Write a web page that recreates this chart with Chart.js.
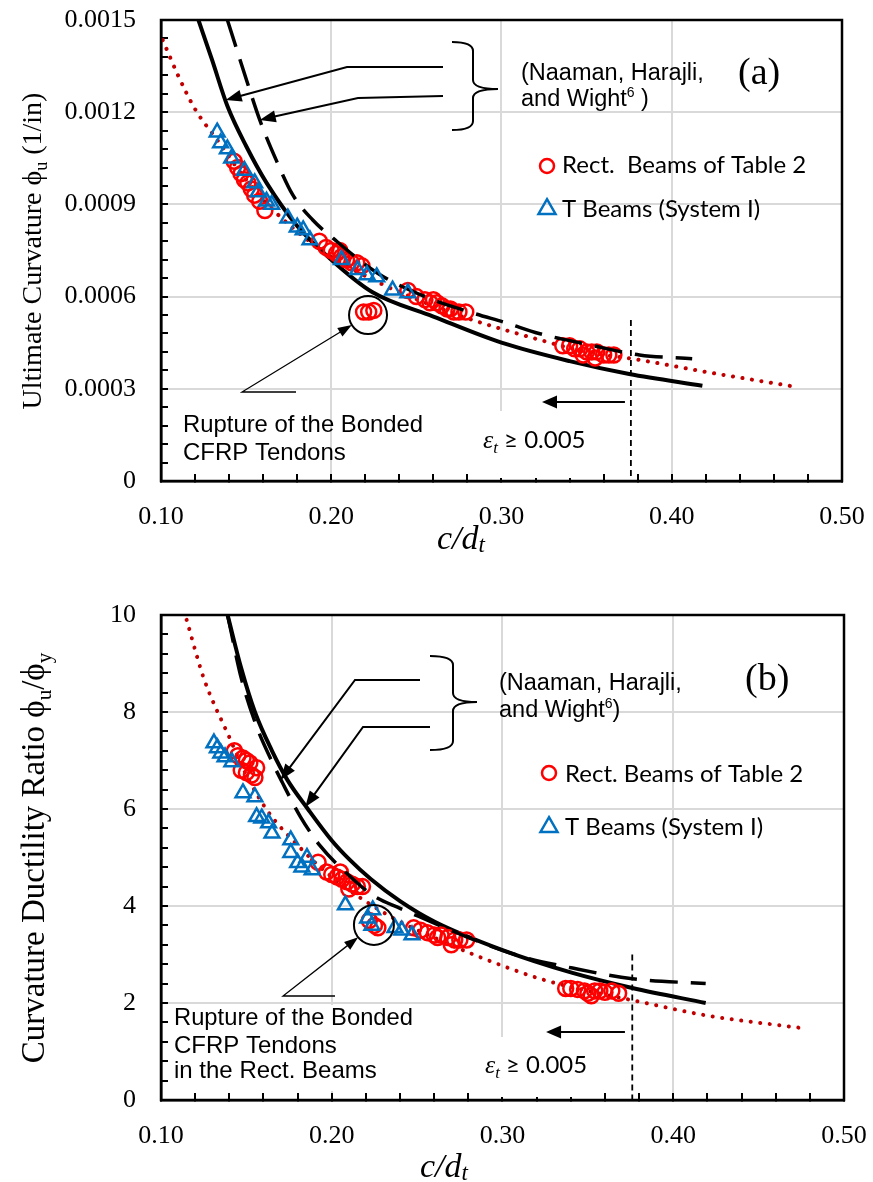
<!DOCTYPE html>
<html>
<head>
<meta charset="utf-8">
<title>Curvature and ductility vs c/dt</title>
<script src="https://cdn.jsdelivr.net/npm/chart.js@4.4.1/dist/chart.umd.min.js"></script>
<style>
  html, body { margin: 0; padding: 0; background: #fff; }
  .panel { position: absolute; left: 0; width: 873px; }
</style>
</head>
<body>
<div class="panel" style="top:0;height:580px"><canvas id="chartA" width="873" height="580"></canvas></div>
<div class="panel" style="top:580px;height:602px"><canvas id="chartB" width="873" height="602"></canvas></div>
<script>
// --- Values ---
const xTicks = [0.10, 0.20, 0.30, 0.40, 0.50];
const aYTicks = [0, 0.0003, 0.0006, 0.0009, 0.0012, 0.0015];
const bYTicks = [0, 2, 4, 6, 8, 10];
const epsLimit = 0.376; // c/dt where eps_t = 0.005

// panel (a): ultimate curvature phi_u (1/in)
const aSolidC   = [0.122, 0.130, 0.139, 0.150, 0.162, 0.180, 0.200, 0.224, 0.260, 0.300, 0.340, 0.375, 0.418];
const aSolidPhi = [0.00150, 0.00137, 0.00122, 0.00109, 0.00097, 0.00083, 0.00072, 0.000615, 0.000535, 0.00045, 0.00039, 0.000348, 0.00031];
const aDashC    = [0.139, 0.1505, 0.158, 0.168, 0.1775, 0.189, 0.201, 0.227, 0.255, 0.283, 0.303, 0.322, 0.350, 0.381, 0.412];
const aDashPhi  = [0.00150, 0.00130, 0.001175, 0.00104, 0.00093, 0.00085, 0.00079, 0.000677, 0.00060, 0.000547, 0.000514, 0.00048, 0.000445, 0.00041, 0.000398];
const aTrendC   = [0.101, 0.110, 0.120, 0.133, 0.150, 0.170, 0.200, 0.230, 0.260, 0.283, 0.322, 0.350, 0.381, 0.420, 0.470];
const aTrendPhi = [0.001435, 0.00132, 0.00121, 0.00111, 0.00098, 0.00086, 0.00073, 0.00064, 0.00057, 0.000524, 0.00046, 0.00042, 0.000394, 0.000355, 0.000309];
const aRectC    = [0.143, 0.145, 0.147, 0.149, 0.151, 0.153, 0.155, 0.158, 0.161,
                   0.193, 0.197, 0.200, 0.203, 0.205, 0.206, 0.209, 0.212, 0.215, 0.218,
                   0.219, 0.222, 0.225,
                   0.245, 0.250, 0.255, 0.258, 0.260, 0.262, 0.265, 0.268, 0.270, 0.272, 0.275, 0.279,
                   0.336, 0.340, 0.343, 0.346, 0.348, 0.350, 0.353, 0.355, 0.356, 0.360, 0.363, 0.366];
const aRectPhi  = [0.00104, 0.00102, 0.00100, 0.00098, 0.00097, 0.00095, 0.00093, 0.00091, 0.00088,
                   0.00078, 0.00076, 0.00075, 0.00074, 0.00075, 0.00073, 0.00072, 0.00071, 0.00071, 0.00070,
                   0.00055, 0.00055, 0.000555,
                   0.00062, 0.00060, 0.00059, 0.00058, 0.00059, 0.00058, 0.00057, 0.00056, 0.00056, 0.00055, 0.00055, 0.00055,
                   0.00044, 0.00044, 0.00043, 0.00043, 0.00041, 0.00042, 0.00042, 0.00040, 0.00042, 0.00041, 0.00041, 0.00041];
const aTeeC     = [0.133, 0.135, 0.139, 0.1415, 0.149, 0.155, 0.157, 0.162, 0.165, 0.1745, 0.180, 0.1835, 0.1875,
                   0.206, 0.2155, 0.221, 0.2267, 0.236, 0.245];
const aTeePhi   = [0.001135, 0.00110, 0.00108, 0.00105, 0.00101, 0.00097, 0.00094, 0.00091, 0.00090, 0.000855, 0.000826, 0.000817, 0.000784,
                   0.00072, 0.000687, 0.00067, 0.000664, 0.000621, 0.000612];

// panel (b): curvature ductility ratio phi_u/phi_y
const bSolidC   = [0.139, 0.147, 0.155, 0.165, 0.174, 0.186, 0.200, 0.210, 0.223, 0.240, 0.260, 0.300, 0.341, 0.376, 0.419];
const bSolidR   = [10.0, 8.9, 8.0, 7.2, 6.6, 6.0, 5.35, 4.97, 4.55, 4.1, 3.68, 3.09, 2.62, 2.31, 2.0];
const bDashC    = [0.139, 0.147, 0.156, 0.164, 0.171, 0.1815, 0.193, 0.208, 0.224, 0.240, 0.256, 0.280, 0.312, 0.341, 0.376, 0.419];
const bDashR    = [10.0, 8.7, 7.7, 7.05, 6.55, 5.85, 5.25, 4.7, 4.22, 3.95, 3.71, 3.35, 2.95, 2.72, 2.5, 2.4];
const bTrendC   = [0.115, 0.125, 0.140, 0.150, 0.162, 0.1815, 0.200, 0.236, 0.260, 0.283, 0.322, 0.350, 0.381, 0.420, 0.476];
const bTrendR   = [9.9, 8.7, 7.48, 6.7, 5.98, 5.2, 4.6, 3.75, 3.35, 3.0, 2.5, 2.25, 2.02, 1.74, 1.48];
const bRectC    = [0.143, 0.145, 0.148, 0.150, 0.152, 0.147, 0.150, 0.153, 0.155, 0.156,
                   0.192, 0.197, 0.200, 0.203, 0.205, 0.206, 0.209, 0.210, 0.212, 0.215, 0.218,
                   0.222, 0.225, 0.227,
                   0.248, 0.252, 0.256, 0.260, 0.262, 0.264, 0.268, 0.270, 0.272, 0.275, 0.279,
                   0.337, 0.340, 0.344, 0.348, 0.350, 0.352, 0.354, 0.357, 0.360, 0.364, 0.368];
const bRectR    = [7.2, 7.1, 7.05, 7.0, 6.95, 6.8, 6.75, 6.7, 6.65, 6.85,
                   4.9, 4.7, 4.65, 4.6, 4.7, 4.55, 4.5, 4.35, 4.45, 4.4, 4.4,
                   3.7, 3.6, 3.55,
                   3.55, 3.5, 3.45, 3.4, 3.35, 3.4, 3.35, 3.2, 3.3, 3.3, 3.3,
                   2.3, 2.3, 2.28, 2.25, 2.2, 2.15, 2.25, 2.25, 2.22, 2.25, 2.2];
const bTeeC     = [0.131, 0.133, 0.135, 0.1375, 0.1415, 0.148, 0.155, 0.156, 0.159, 0.163, 0.165, 0.176, 0.176, 0.180, 0.1825, 0.1855, 0.1885,
                   0.208, 0.221, 0.224, 0.2235, 0.237, 0.241, 0.247];
const bTeeR     = [7.36, 7.26, 7.15, 7.07, 6.97, 6.33, 6.25, 5.84, 5.81, 5.71, 5.5, 5.36, 5.1, 4.89, 4.8, 5.0, 4.74,
                   4.02, 3.75, 3.92, 3.6, 3.55, 3.5, 3.4];

// --- Fonts ---
const SERIF = '"Liberation Serif", "Times New Roman", serif';
const SANS = '"Liberation Sans", Arial, sans-serif';
const CALI = 'Lato, "Open Sans", sans-serif';
const f = (size, fam, style) => `${style || ''} ${size}px ${fam}`;

// --- Helpers ---
function buildTicks(majors, sub) {
    const out = [];
    for (let i = 0; i < majors.length - 1; i++) {
        const step = (majors[i + 1] - majors[i]) / sub;
        for (let k = 0; k < sub; k++) out.push({ value: majors[i] + k * step });
    }
    out.push({ value: majors[majors.length - 1] });
    return out;
}
function isMajor(v, majors) {
    return majors.some(m => Math.abs(m - v) < 1e-9);
}
const pts = (cs, vs) => cs.map((c, i) => ({ x: c, y: vs[i] }));

function axis(majors, fmt, pad, fit) {
    return {
        type: 'linear', min: majors[0], max: majors[majors.length - 1],
        afterBuildTicks: s => { s.ticks = buildTicks(majors, 5); },
        afterFit: s => {
            fit(s);
            // the plot box is pinned by layout padding, not by label overhang
            s.paddingTop = 0; s.paddingBottom = 0; s.paddingLeft = 0; s.paddingRight = 0;
        },
        ticks: {
            autoSkip: false, maxRotation: 0, padding: pad, color: '#000',
            font: { family: SERIF, size: 26 },
            callback: v => isMajor(v, majors) ? fmt(v) : ''
        },
        grid: {
            color: c => (c.tick && isMajor(c.tick.value, majors)) ? '#D9D9D9' : 'rgba(0,0,0,0)',
            lineWidth: 2, tickColor: '#000', tickLength: -7, tickWidth: 2
        },
        border: { color: '#000', width: 2.5 }
    };
}

function drawRuns(ctx, runs, x, y, opts) {
    opts = opts || {};
    let w = 0;
    runs.forEach(r => { ctx.font = r[1]; w += ctx.measureText(r[0]).width; });
    const k = opts.maxWidth && w > opts.maxWidth ? opts.maxWidth / w : 1;
    ctx.save();
    ctx.translate(x, y);
    if (opts.rotate) ctx.rotate(opts.rotate);
    ctx.scale(k, 1);
    let cx = opts.center ? -w / 2 : 0;
    ctx.textBaseline = 'alphabetic';
    ctx.textAlign = 'left';
    ctx.fillStyle = '#000';
    runs.forEach(r => {
        ctx.font = r[1];
        ctx.fillText(r[0], cx, r[2] || 0);
        cx += ctx.measureText(r[0]).width;
    });
    ctx.restore();
}

function arrowHead(ctx, x0, y0, x1, y1, len, half) {
    const a = Math.atan2(y1 - y0, x1 - x0);
    const bx = x1 - len * Math.cos(a), by = y1 - len * Math.sin(a);
    ctx.beginPath();
    ctx.moveTo(x1, y1);
    ctx.lineTo(bx + half * Math.sin(a), by - half * Math.cos(a));
    ctx.lineTo(bx - half * Math.sin(a), by + half * Math.cos(a));
    ctx.closePath();
    ctx.fill();
}

function leader(ctx, path, tip, len, half, width) {
    ctx.lineWidth = width;
    const last = path[path.length - 1];
    const a = Math.atan2(tip[1] - last[1], tip[0] - last[0]);
    ctx.beginPath();
    ctx.moveTo(path[0][0], path[0][1]);
    path.slice(1).forEach(p => ctx.lineTo(p[0], p[1]));
    ctx.lineTo(tip[0] - (len - 2) * Math.cos(a), tip[1] - (len - 2) * Math.sin(a));
    ctx.stroke();
    arrowHead(ctx, last[0], last[1], tip[0], tip[1], len, half);
}

function brace(ctx, x0, xm, x1, y1, ym, y2) {
    const r = 9;
    ctx.lineWidth = 2;
    ctx.beginPath();
    ctx.moveTo(x0, y1);
    ctx.quadraticCurveTo(xm, y1, xm, y1 + r);
    ctx.lineTo(xm, ym - r);
    ctx.quadraticCurveTo(xm, ym, x1, ym);
    ctx.quadraticCurveTo(xm, ym, xm, ym + r);
    ctx.lineTo(xm, y2 - r);
    ctx.quadraticCurveTo(xm, y2, x0, y2);
    ctx.stroke();
}

// --- Annotation layout per panel ---
const panelNotes = {
    chartA: {
        boxes: [[475, 411, 125, 67]],
        brace: [452, 473, 498, 42, 89, 130],
        leaders: [
            { path: [[443, 67], [347, 67]], tip: [0.138, 0.00124] },
            { path: [[443, 96], [358, 98]], tip: [0.158, 0.001175] }
        ],
        ring: { at: [0.2216, 0.00054], r: 19, path: [[296, 392], [242, 392]] },
        limit: { top: 0.000524, arrow: [0.3725, 0.3238, 0.000257] },
        texts: [
            { runs: [['(Naaman, Harajli,', f(23.5, SANS)]], x: 521, y: 80 },
            { runs: [['and Wight', f(23.5, SANS)], ['6', f(14, SANS), -9], [' )', f(23.5, SANS)]], x: 521, y: 106 },
            { runs: [['(a)', f(38, SERIF)]], x: 738, y: 84 },
            { runs: [['Rect.  Beams of Table 2', f(24, CALI)]], x: 562, y: 173, maxWidth: 250 },
            { runs: [['T Beams (System I)', f(24, CALI)]], x: 562, y: 217, maxWidth: 203 },
            { runs: [['ε', f(26, SERIF, 'italic')], ['t', f(17, SERIF, 'italic'), 5], [' ≥ 0.005', f(24, CALI)]], x: 483, y: 448, maxWidth: 104 },
            { runs: [['Rupture of the Bonded', f(24, SANS)]], x: 183, y: 432, maxWidth: 240 },
            { runs: [['CFRP Tendons', f(24, SANS)]], x: 183, y: 460 }
        ],
        legend: { circle: [547, 166], triangle: [547, 209] },
        yTitle: { x: 41, y: 251, runs: [['Ultimate Curvature ', f(28, SERIF)], ['ϕ', f(28, SERIF)], ['u', f(18, SERIF), 6], [' (1/in)', f(28, SERIF)]] },
        xTitle: { x: 437, y: 549, runs: [['c/d', f(34, SERIF, 'italic')], ['t', f(23, SERIF, 'italic'), 3]] }
    },
    chartB: {
        boxes: [[477, 457, 123, 60], [170, 425, 225, 86]],
        brace: [430, 453, 477, 76, 122, 170],
        leaders: [
            { path: [[420, 100], [355, 100]], tip: [0.170, 6.6] },
            { path: [[430, 147], [363, 147]], tip: [0.1845, 6.04] }
        ],
        ring: { at: [0.2247, 3.61], r: 20, path: [[335, 416], [283, 416]] },
        limit: { top: 3.0, arrow: [0.3717, 0.3255, 1.40] },
        texts: [
            { runs: [['(Naaman, Harajli,', f(23.5, SANS)]], x: 499, y: 110 },
            { runs: [['and Wight', f(23.5, SANS)], ['6', f(14, SANS), -9], [')', f(23.5, SANS)]], x: 499, y: 137 },
            { runs: [['(b)', f(38, SERIF)]], x: 745, y: 110 },
            { runs: [['Rect. Beams of Table 2', f(24, CALI)]], x: 565, y: 202, maxWidth: 243 },
            { runs: [['T Beams (System I)', f(24, CALI)]], x: 565, y: 255, maxWidth: 202 },
            { runs: [['ε', f(26, SERIF, 'italic')], ['t', f(17, SERIF, 'italic'), 5], [' ≥ 0.005', f(24, CALI)]], x: 485, y: 493, maxWidth: 102 },
            { runs: [['Rupture of the Bonded', f(24, SANS)]], x: 174, y: 445, maxWidth: 239 },
            { runs: [['CFRP Tendons', f(24, SANS)]], x: 174, y: 473 },
            { runs: [['in the Rect. Beams', f(24, SANS)]], x: 174, y: 498 }
        ],
        legend: { circle: [549, 193], triangle: [549, 247] },
        yTitle: { x: 44, y: 278, runs: [['Curvature Ductility Ratio ', f(33, SERIF)], ['ϕ', f(33, SERIF)], ['u', f(21, SERIF), 7], ['/ϕ', f(33, SERIF)], ['y', f(21, SERIF), 7]] },
        xTitle: { x: 420, y: 597, runs: [['c/d', f(34, SERIF, 'italic')], ['t', f(23, SERIF, 'italic'), 3]] }
    }
};

const notesPlugin = {
    id: 'notes',
    beforeDatasetsDraw(chart) {
        const n = panelNotes[chart.canvas.id];
        const ctx = chart.ctx;
        ctx.save();
        ctx.fillStyle = '#fff';
        n.boxes.forEach(b => ctx.fillRect(b[0], b[1], b[2], b[3]));
        ctx.restore();
    },
    afterDatasetsDraw(chart) {
        const n = panelNotes[chart.canvas.id];
        const ctx = chart.ctx;
        const X = v => chart.scales.x.getPixelForValue(v);
        const Y = v => chart.scales.y.getPixelForValue(v);
        ctx.save();
        ctx.strokeStyle = '#000';
        ctx.fillStyle = '#000';

        // eps_t = 0.005 limit line and arrow
        ctx.lineWidth = 1.8;
        ctx.setLineDash([6, 4]);
        ctx.beginPath();
        ctx.moveTo(X(epsLimit), Y(n.limit.top));
        ctx.lineTo(X(epsLimit), chart.chartArea.bottom);
        ctx.stroke();
        ctx.setLineDash([]);
        const ar = n.limit.arrow;
        leader(ctx, [[X(ar[0]), Y(ar[2])]], [X(ar[1]), Y(ar[2])], 15, 6.5, 2);

        // circle around the ruptured specimens
        const cx = X(n.ring.at[0]), cy = Y(n.ring.at[1]);
        ctx.lineWidth = 2;
        ctx.beginPath();
        ctx.arc(cx, cy, n.ring.r, 0, Math.PI * 2);
        ctx.stroke();
        const last = n.ring.path[n.ring.path.length - 1];
        const d = Math.hypot(cx - last[0], cy - last[1]);
        const tip = [last[0] + (cx - last[0]) * (d - n.ring.r) / d, last[1] + (cy - last[1]) * (d - n.ring.r) / d];
        leader(ctx, n.ring.path, tip, 14, 5, 1.3);

        // brace and leaders to the Naaman curves
        brace(ctx, ...n.brace);
        n.leaders.forEach(l => leader(ctx, l.path, [X(l.tip[0]), Y(l.tip[1])], 16, 6, 2));
        ctx.restore();
    },
    afterDraw(chart) {
        const n = panelNotes[chart.canvas.id];
        const ctx = chart.ctx;
        const a = chart.chartArea;
        ctx.save();
        ctx.strokeStyle = '#000';
        ctx.lineWidth = 2.5;
        ctx.strokeRect(a.left, a.top, a.right - a.left, a.bottom - a.top);

        n.texts.forEach(t => drawRuns(ctx, t.runs, t.x, t.y, { maxWidth: t.maxWidth }));

        // legend markers
        ctx.lineWidth = 2.5;
        ctx.strokeStyle = '#FF0000';
        ctx.beginPath();
        ctx.arc(n.legend.circle[0], n.legend.circle[1], 7, 0, Math.PI * 2);
        ctx.stroke();
        ctx.strokeStyle = '#0070C0';
        const s = 17, h = s * 0.866, tx = n.legend.triangle[0], ty = n.legend.triangle[1];
        ctx.beginPath();
        ctx.moveTo(tx, ty - h * 2 / 3);
        ctx.lineTo(tx + s / 2, ty + h / 3);
        ctx.lineTo(tx - s / 2, ty + h / 3);
        ctx.closePath();
        ctx.stroke();

        drawRuns(ctx, n.yTitle.runs, n.yTitle.x, n.yTitle.y, { rotate: -Math.PI / 2, center: true });
        drawRuns(ctx, n.xTitle.runs, n.xTitle.x, n.xTitle.y);
        ctx.restore();
    }
};

// --- Chart creation ---
function lineSet(cs, vs, style, order) {
    return Object.assign({
        data: pts(cs, vs), showLine: true, pointRadius: 0, pointHoverRadius: 0,
        fill: false, cubicInterpolationMode: 'monotone', order: order
    }, style);
}
function markerSet(cs, vs, shape, color, radius, order) {
    return {
        data: pts(cs, vs), showLine: false, pointStyle: shape, pointRadius: radius,
        pointBorderWidth: 2.5, pointBorderColor: color, pointBackgroundColor: 'rgba(0,0,0,0)',
        order: order
    };
}

function createPanel(canvasId, sets, yTicks, yFmt, pad) {
    const height = document.getElementById(canvasId).height;
    return new Chart(document.getElementById(canvasId), {
        type: 'scatter',
        data: {
            datasets: [
                markerSet(sets.teeC, sets.teeV, 'triangle', '#0070C0', 8.5, 0),
                lineSet(sets.dashC, sets.dashV, { borderColor: '#000', borderWidth: 3.5, borderDash: [28, 13] }, 1),
                markerSet(sets.rectC, sets.rectV, 'circle', '#FF0000', 7.5, 2),
                lineSet(sets.solidC, sets.solidV, { borderColor: '#000', borderWidth: 4 }, 3),
                lineSet(sets.trendC, sets.trendV, { borderColor: '#C00000', borderWidth: 4, borderDash: [0.1, 9.5], borderCapStyle: 'round' }, 4)
            ]
        },
        options: {
            responsive: false, animation: false, events: [],
            layout: { padding: { top: pad.top, right: pad.right, left: 0, bottom: 0 } },
            plugins: { legend: { display: false }, tooltip: { enabled: false } },
            scales: {
                x: axis(xTicks, v => v.toFixed(2), 28, s => { s.height = height - pad.bottom; }),
                y: axis(yTicks, yFmt, 32, s => { s.width = 161; })
            }
        },
        plugins: [notesPlugin]
    });
}

createPanel('chartA', {
    teeC: aTeeC, teeV: aTeePhi, rectC: aRectC, rectV: aRectPhi,
    solidC: aSolidC, solidV: aSolidPhi, dashC: aDashC, dashV: aDashPhi, trendC: aTrendC, trendV: aTrendPhi
}, aYTicks, v => v === 0 ? '0' : v.toFixed(4), { top: 20, right: 31, bottom: 481 });

createPanel('chartB', {
    teeC: bTeeC, teeV: bTeeR, rectC: bRectC, rectV: bRectR,
    solidC: bSolidC, solidV: bSolidR, dashC: bDashC, dashV: bDashR, trendC: bTrendC, trendV: bTrendR
}, bYTicks, v => String(v), { top: 35, right: 29, bottom: 520 });
</script>
</body>
</html>
